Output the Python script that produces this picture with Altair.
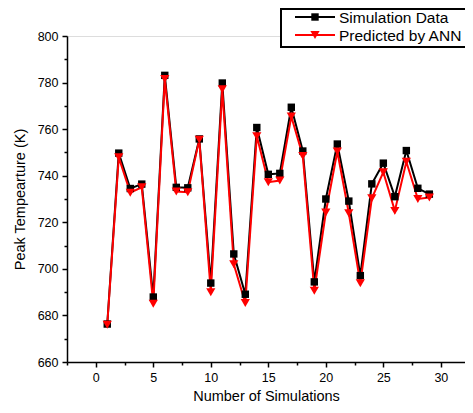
import altair as alt
import pandas as pd

runs = list(range(1, 30))
sim_values = [676.3, 749.7, 734.5, 736.4, 687.9, 783.1, 735.0, 734.8, 755.8, 693.9,
              779.8, 706.4, 689.1, 760.7, 740.6, 741.0, 769.4, 750.6, 694.4, 730.0,
              753.6, 729.1, 697.1, 736.5, 745.4, 731.0, 750.8, 734.6, 732.1]
ann_values = [676.0, 747.9, 732.7, 735.0, 685.0, 781.5, 733.2, 732.9, 755.5, 690.0,
              777.1, 702.0, 685.3, 757.0, 737.2, 737.9, 765.4, 748.5, 690.6, 724.2,
              750.4, 723.9, 693.8, 730.3, 741.5, 724.9, 746.0, 730.0, 730.6]
series_names = ["Simulation Data", "Predicted by ANN"]
series_colors = ["#000000", "#ff0000"]
series_shapes = ["square", "triangle-down"]
series_sizes = [55, 85]
x_major = [0, 5, 10, 15, 20, 25, 30]
x_minor = [-2.5, 2.5, 7.5, 12.5, 17.5, 22.5, 27.5]
y_major = [660, 680, 700, 720, 740, 760, 780, 800]
y_minor = [670, 690, 710, 730, 750, 770, 790]

df = pd.DataFrame({
    "run": runs + runs,
    "temp": sim_values + ann_values,
    "series": [series_names[0]] * len(runs) + [series_names[1]] * len(runs),
})
minor_df = pd.DataFrame({"mx": [0.0], "my": [700.0]})
legend_df = pd.DataFrame({"label": series_names})

FONT = "Liberation Sans"
x_dom = [-2.5, 32.1]
y_dom = [660, 800]
xs = alt.Scale(domain=x_dom, nice=False, zero=False)
ys = alt.Scale(domain=y_dom, nice=False, zero=False)

x_main = alt.X("run:Q", scale=xs,
               axis=alt.Axis(orient="bottom", values=x_major, title="Number of Simulations",
                             grid=False, tickSize=5, tickWidth=1.5, domainWidth=1.5,
                             domainColor="black", tickColor="black", labelColor="black",
                             labelFont=FONT, labelFontSize=12.5, labelPadding=4,
                             titleFont=FONT, titleFontSize=14.5, titleFontWeight="normal",
                             titleColor="black", titlePadding=6))
y_main = alt.Y("temp:Q", scale=ys,
               axis=alt.Axis(orient="left", values=y_major, title="Peak Tempearture (K)",
                             grid=False, tickSize=5, tickWidth=1.5, domainWidth=1.5,
                             domainColor="black", tickColor="black", labelColor="black",
                             labelFont=FONT, labelFontSize=12.5, labelPadding=4,
                             titleFont=FONT, titleFontSize=14.5, titleFontWeight="normal",
                             titleColor="black", titlePadding=10))

lines = alt.Chart(df).mark_line(strokeWidth=2).encode(
    x=x_main, y=y_main,
    color=alt.Color("series:N", scale=alt.Scale(domain=series_names, range=series_colors),
                    sort=series_names, legend=None),
)

point_layers = []
for name, col, shp, sz in zip(series_names, series_colors, series_shapes, series_sizes):
    point_layers.append(
        alt.Chart(df).transform_filter(alt.datum.series == name).mark_point(
            filled=True, opacity=1, shape=shp, size=sz, color=col
        ).encode(x=alt.X("run:Q", scale=xs, axis=None), y=alt.Y("temp:Q", scale=ys, axis=None))
    )

minor = alt.Chart(minor_df).mark_point(opacity=0).encode(
    x=alt.X("mx:Q", scale=xs,
            axis=alt.Axis(orient="bottom", values=x_minor, labels=False, domain=False, grid=False,
                          tickSize=3, tickWidth=1.5, tickColor="black", title=None)),
    y=alt.Y("my:Q", scale=ys,
            axis=alt.Axis(orient="left", values=y_minor, labels=False, domain=False, grid=False,
                          tickSize=3, tickWidth=1.5, tickColor="black", title=None)),
)

# legend box (top right, partly above the plot, clipped at the right edge like the original)
legend_layers = [
    alt.Chart(legend_df.head(1)).mark_rect(fill="white", stroke="black", strokeWidth=2).encode(
        x=alt.value(214), x2=alt.value(430), y=alt.value(-27), y2=alt.value(11)
    )
]
row_y = [-19, -1]
for i, (name, col, shp, sz) in enumerate(zip(series_names, series_colors, series_shapes, series_sizes)):
    one = alt.Chart(legend_df).transform_filter(alt.datum.label == name)
    legend_layers.append(one.mark_rule(color=col, strokeWidth=2).encode(
        x=alt.value(228), x2=alt.value(268), y=alt.value(row_y[i])))
    legend_layers.append(one.mark_point(filled=True, opacity=1, shape=shp, size=sz, color=col).encode(
        x=alt.value(248), y=alt.value(row_y[i])))
    legend_layers.append(one.mark_text(align="left", baseline="middle", font=FONT, fontSize=15.5,
                                       color="black").encode(
        x=alt.value(272), y=alt.value(row_y[i] + 1), text="label:N"))

chart = alt.layer(lines, *point_layers, minor, *legend_layers).resolve_axis(
    x="independent", y="independent"
).properties(
    width=398, height=326,
    autosize=alt.AutoSizeParams(type="none"),
    padding={"left": 59, "top": 28, "right": 0, "bottom": 43},
).configure_view(stroke=None).configure(background="white")

chart.save("out.html", embed_options={"renderer": "svg", "actions": False})
